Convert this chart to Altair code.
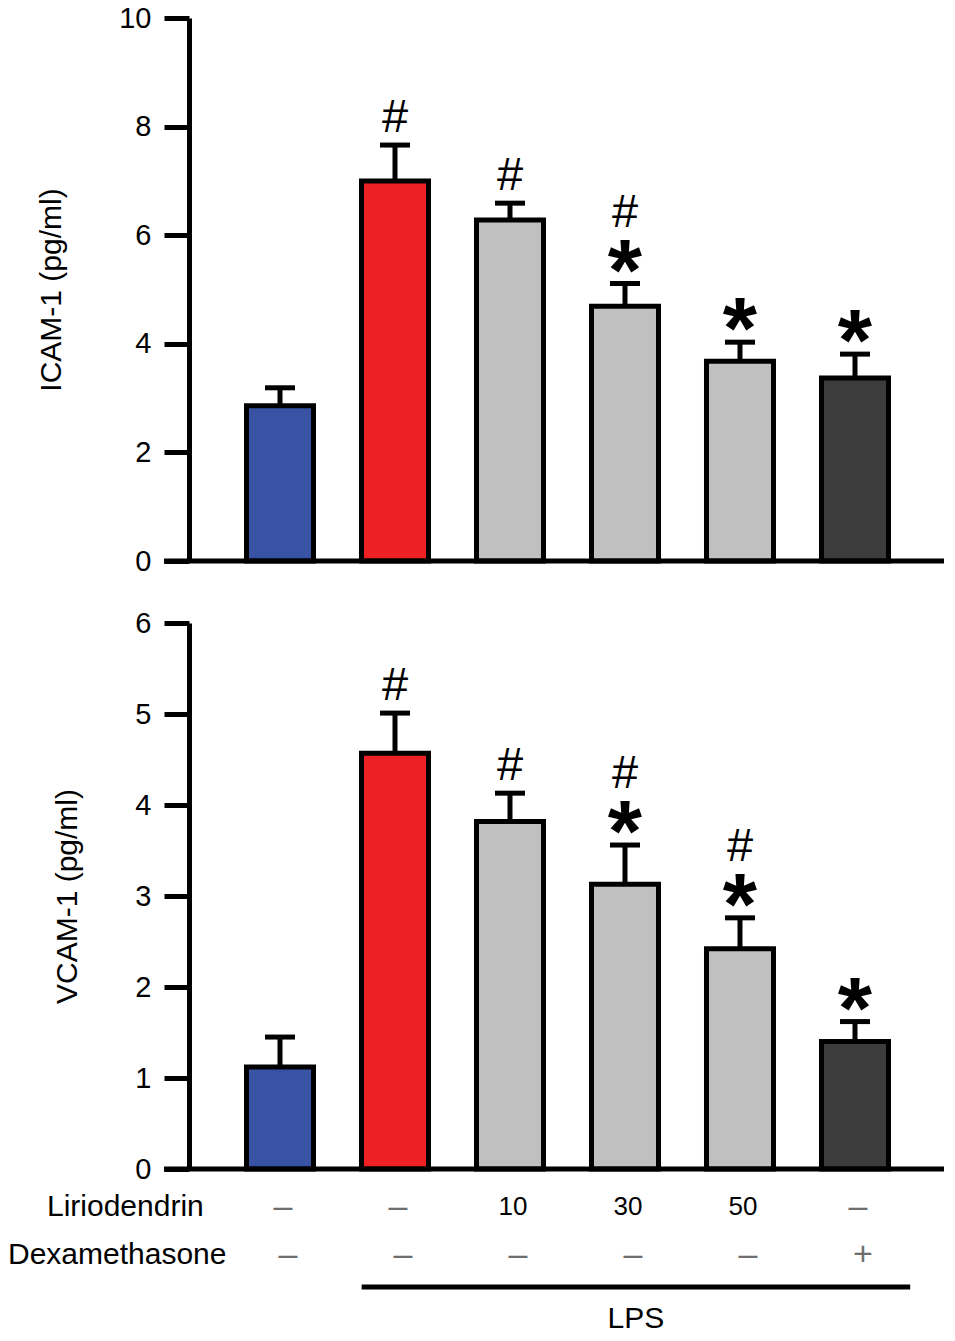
import altair as alt
import pandas as pd

# ---------------- data ----------------
groups = ["Control", "LPS", "LPS + Lirio 10", "LPS + Lirio 30", "LPS + Lirio 50", "LPS + Dex"]
bar_colors = ["#3953a4", "#ed2024", "#c0c0c0", "#c0c0c0", "#c0c0c0", "#3c3c3c"]

icam_mean = [2.86, 7.00, 6.28, 4.69, 3.68, 3.37]
icam_top = [3.19, 7.66, 6.59, 5.11, 4.03, 3.81]
icam_low = ["", "#", "#", "*", "*", "*"]
icam_high = ["", "", "", "#", "", ""]

vcam_mean = [1.12, 4.57, 3.82, 3.13, 2.42, 1.40]
vcam_top = [1.45, 5.01, 4.13, 3.56, 2.76, 1.62]
vcam_low = ["", "#", "#", "*", "*", "*"]
vcam_high = ["", "", "", "#", "#", ""]

row_labels = ["Liriodendrin", "Dexamethasone"]
liriodendrin = ["–", "–", "10", "30", "50", "–"]
dexamethasone = ["–", "–", "–", "–", "–", "+"]
lps_span = [1.71, 6.48]
lps_label = "LPS"

# ---------------- layout constants ----------------
FONT = "Liberation Sans"
W = 755
TOP_H = 543
BOT_H = 546
XDOM = [0.2087, 6.774]
SW = 5


def xscale():
    return alt.Scale(domain=XDOM, nice=False, zero=False, padding=0)


def panel(mean, top, low, high, ymax, ytitle, h):
    df = pd.DataFrame({
        "pos": list(range(1, len(groups) + 1)),
        "group": groups,
        "mean": mean,
        "top": top,
        "color": bar_colors,
        "low": low,
        "high": high,
    })
    x = alt.X("pos:Q", scale=xscale(), axis=None)
    ysc = alt.Scale(domain=[0, ymax], nice=False, padding=0)
    yaxis = alt.Axis(
        values=list(range(0, ymax + 1, 2 if ymax > 6 else 1)), format="d",
        tickSize=25, tickWidth=SW, tickColor="black",
        domainWidth=SW, domainColor="black",
        labelFont=FONT, labelFontSize=29, labelColor="black", labelPadding=13,
        titleFont=FONT, titleFontSize=30, titleFontWeight="normal", titleColor="black",
        titlePadding=52, grid=False,
    )
    base = alt.Chart(df)
    err = base.mark_rule(strokeWidth=SW, color="black").encode(
        x=x, y=alt.Y("mean:Q", scale=ysc, axis=yaxis, title=ytitle), y2="top:Q"
    )
    cap = base.mark_tick(orient="horizontal", size=30, thickness=SW, color="black", opacity=1).encode(
        x=x, y=alt.Y("top:Q", scale=ysc, title=ytitle)
    )
    bars = base.mark_bar(size=67, stroke="black", strokeWidth=SW, strokeJoin="miter").encode(
        x=x, y=alt.Y("mean:Q", scale=ysc, title=ytitle),
        fill=alt.Fill("color:N", scale=None),
        tooltip=["group:N", "mean:Q"],
    )
    baseline = alt.Chart(pd.DataFrame({"z": [0]})).mark_rule(strokeWidth=SW, color="black").encode(
        x=alt.value(-25), x2=alt.value(W), y=alt.Y("z:Q", scale=ysc, title=ytitle)
    )
    hash_low = base.transform_filter(alt.datum.low == "#").mark_text(
        font=FONT, fontSize=47, baseline="alphabetic", dy=-13, color="black"
    ).encode(x=x, y=alt.Y("top:Q", scale=ysc, title=ytitle), text="low:N")
    star_low = base.transform_filter(alt.datum.low == "*").mark_text(
        font=FONT, fontSize=88, fontWeight="bold", baseline="alphabetic", dy=16, color="black"
    ).encode(x=x, y=alt.Y("top:Q", scale=ysc, title=ytitle), text="low:N")
    hash_high = base.transform_filter(alt.datum.high == "#").mark_text(
        font=FONT, fontSize=47, baseline="alphabetic", dy=-57, color="black"
    ).encode(x=x, y=alt.Y("top:Q", scale=ysc, title=ytitle), text="high:N")
    return [err, cap, bars, baseline, hash_low, star_low, hash_high], x


top_layers, x_top = panel(icam_mean, icam_top, icam_low, icam_high, 10, "ICAM-1 (pg/ml)", TOP_H)
bot_layers, x_bot = panel(vcam_mean, vcam_top, vcam_low, vcam_high, 6, "VCAM-1 (pg/ml)", BOT_H)

# ---------------- treatment table under the lower panel ----------------
tab = pd.DataFrame({
    "pos": list(range(1, len(groups) + 1)) * 2,
    "row": [row_labels[0]] * len(groups) + [row_labels[1]] * len(groups),
    "txt": liriodendrin + dexamethasone,
})
tab["tc"] = ["black" if t[0].isdigit() else "#6e6e6e" for t in tab["txt"]]
tab["fs"] = [26 if t[0].isdigit() else 34 for t in tab["txt"]]

tbase = alt.Chart(tab)
lir_cells = tbase.transform_filter(alt.datum.row == row_labels[0]).mark_text(
    font=FONT, baseline="middle", dx=3
).encode(x=x_bot, y=alt.value(BOT_H + 38), text="txt:N",
         color=alt.Color("tc:N", scale=None), size=alt.Size("fs:Q", scale=None))
dex_cells = tbase.transform_filter(alt.datum.row == row_labels[1]).mark_text(
    font=FONT, baseline="middle", dx=8
).encode(x=x_bot, y=alt.value(BOT_H + 86), text="txt:N",
         color=alt.Color("tc:N", scale=None), size=alt.Size("fs:Q", scale=None))

lab = pd.DataFrame({"label": row_labels})
lir_label = alt.Chart(lab).transform_filter(alt.datum.label == row_labels[0]).mark_text(
    font=FONT, fontSize=30, align="left", baseline="middle", color="black"
).encode(x=alt.value(-142), y=alt.value(BOT_H + 38), text="label:N")
dex_label = alt.Chart(lab).transform_filter(alt.datum.label == row_labels[1]).mark_text(
    font=FONT, fontSize=30, align="left", baseline="middle", color="black"
).encode(x=alt.value(-181), y=alt.value(BOT_H + 86), text="label:N")

lps = pd.DataFrame({"x1": [lps_span[0]], "x2": [lps_span[1]], "label": [lps_label]})
lps_line = alt.Chart(lps).mark_rule(strokeWidth=5, color="black").encode(
    x=alt.X("x1:Q", scale=xscale(), axis=None),
    x2="x2:Q", y=alt.value(BOT_H + 118)
)
lps_text = alt.Chart(lps).transform_calculate(mid="(datum.x1 + datum.x2) / 2").mark_text(
    font=FONT, fontSize=30, baseline="middle", color="black"
).encode(
    x=alt.X("mid:Q", scale=xscale(), axis=None),
    y=alt.value(BOT_H + 150), text="label:N"
)

top_chart = alt.layer(*top_layers).properties(width=W, height=TOP_H)
bot_chart = alt.layer(*bot_layers, lir_cells, dex_cells, lir_label, dex_label, lps_line, lps_text).properties(
    width=W, height=BOT_H
)

chart = alt.vconcat(top_chart, bot_chart, spacing=33).properties(
    padding={"top": -4, "left": 0, "right": 0, "bottom": -5}
).configure_view(stroke=None)

chart.save("out.html", embed_options={"renderer": "svg", "actions": False})
